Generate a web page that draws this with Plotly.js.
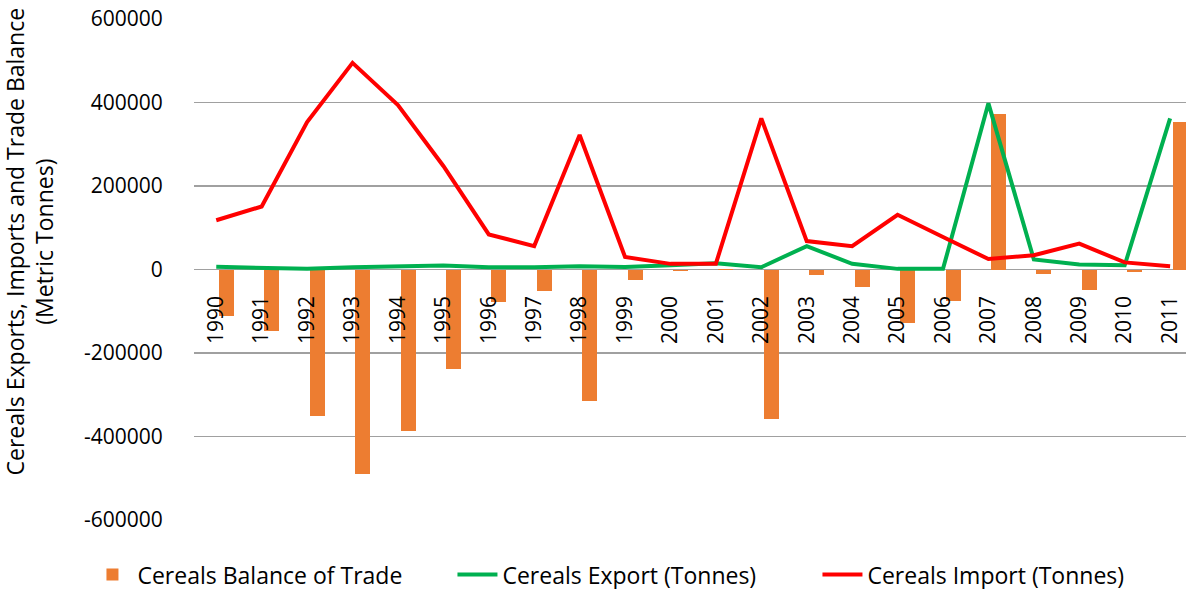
<!DOCTYPE html>
<html>
<head>
<meta charset="utf-8">
<script src="https://cdn.plot.ly/plotly-3.0.1.min.js"></script>
<style>html,body{margin:0;padding:0;background:#fff;}#chart{width:1186px;height:589px;}</style>
</head>
<body>
<div id="chart"></div>
<script>
const years = ['1990','1991','1992','1993','1994','1995','1996','1997','1998','1999','2000','2001','2002','2003','2004','2005','2006','2007','2008','2009','2010','2011'];
const balance = [-111600,-148000,-350000,-490000,-386000,-239000,-78000,-51000,-315000,-24000,-3000,1000,-357000,-12000,-42000,-128000,-76000,372000,-10000,-50000,-6000,353000];
const exportT = [6400,3000,1500,5500,8000,9600,5500,5500,8000,6000,10000,15000,5500,56000,13600,1500,1500,398000,24000,12000,10000,362000];
const importT = [118000,151000,353000,495000,394000,248000,84000,56000,322000,30000,13500,14000,362000,68000,56000,131000,78000,25000,34000,62000,17000,8000];
const yTickVals = [-600000,-400000,-200000,0,200000,400000,600000];
const yTickText = ['-600000','-400000','-200000','0','200000','400000','600000'];
const yTitle = 'Cereals Exports, Imports and Trade Balance<br>(Metric Tonnes)';

const FONT = 'Open Sans, Liberation Sans, sans-serif';
const traces = [
  {type:'bar', name:'Cereals Balance of Trade', x:years, y:balance,
   marker:{color:'#ED7D31'}, width:0.33, offset:0.057},
  {type:'scatter', mode:'lines', name:'Cereals Export (Tonnes)', x:years, y:exportT,
   line:{color:'#00B050', width:4}},
  {type:'scatter', mode:'lines', name:'Cereals Import (Tonnes)', x:years, y:importT,
   line:{color:'#FF0000', width:4}}
];
const layout = {
  width:1186, height:589,
  margin:{l:194, r:0, t:19, b:69, autoexpand:false},
  paper_bgcolor:'#fff', plot_bgcolor:'#fff',
  font:{family:FONT, size:21, color:'#000'},
  showlegend:true,
  legend:{orientation:'h', x:-0.1074, xanchor:'left', y:-0.066, yanchor:'top',
          font:{family:FONT, size:23, color:'#000'}, entrywidth:310, entrywidthmode:'pixels',
          traceorder:'normal', itemwidth:40},
  xaxis:{type:'category', range:[-0.49, 21.35], anchor:'free', position:0.5,
         showgrid:false, zeroline:false, showline:false,
         ticks:'outside', ticklen:17, tickcolor:'rgba(0,0,0,0)', tickangle:-90,
         tickfont:{family:FONT, size:21, color:'#000'}},
  yaxis:{range:[-600000,600000], tickvals:yTickVals, ticktext:yTickText,
         showgrid:true, gridcolor:'#a0a0a0', gridwidth:1.6,
         zeroline:true, zerolinecolor:'#a0a0a0', zerolinewidth:1.6,
         ticks:'outside', ticklen:26, tickcolor:'rgba(0,0,0,0)',
         tickfont:{family:FONT, size:21, color:'#000'}},
  annotations:[{text:yTitle, textangle:-90, xref:'paper', yref:'paper',
                x:-0.1653, xanchor:'center', y:0.556, yanchor:'middle', showarrow:false,
                font:{family:FONT, size:23, color:'#000'}}],
  bargap:0
};
Plotly.newPlot('chart', traces, layout, {displayModeBar:false, staticPlot:true});
</script>
</body>
</html>
